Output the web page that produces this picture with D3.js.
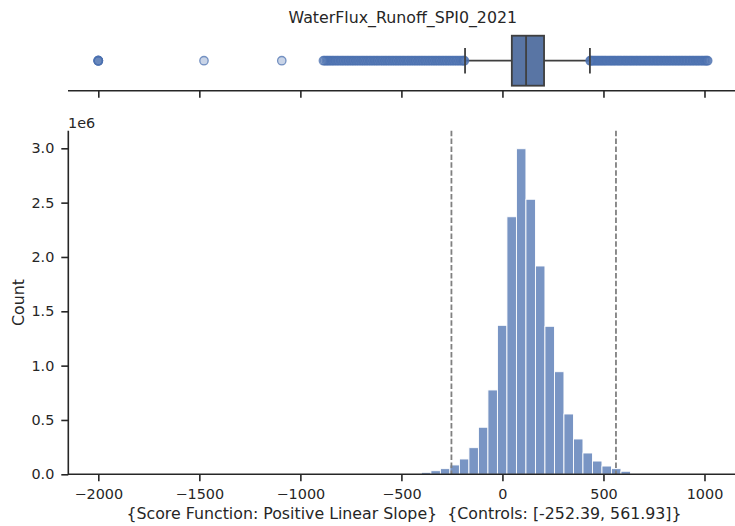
<!DOCTYPE html>
<html>
<head>
<meta charset="utf-8">
<script src="https://cdn.jsdelivr.net/npm/d3@7/dist/d3.min.js"></script>
<style>
  body { margin: 0; background: #fff; }
  svg { display: block; font-family: "DejaVu Sans", sans-serif; }
</style>
</head>
<body>
<svg id="chart" width="735" height="526"></svg>
<script>
// ---- data ----
const title = "WaterFlux_Runoff_SPI0_2021";
const xLabel = "{Score Function: Positive Linear Slope}  {Controls: [-252.39, 561.93]}";
const yLabel = "Count";
const binLefts = [-400.98, -353.95, -306.92, -259.89, -212.86, -165.83, -118.80, -71.77, -24.74, 22.29, 69.32,
                  116.35, 163.38, 210.41, 257.44, 304.47, 351.50, 398.53, 445.56, 492.59, 539.62, 586.65];
const binWidth = 47.03;
const binCounts = [18000, 33000, 52000, 86000, 141000, 245000, 433000, 776000, 1371000, 2370000, 2996000,
                   2531000, 1917000, 1362000, 944000, 555000, 325000, 196000, 122000, 76000, 52000, 28000];
const controls = [-252.39, 561.93];
const xTicks = [-2000, -1500, -1000, -500, 0, 500, 1000];
const yTicks = [0, 500000, 1000000, 1500000, 2000000, 2500000, 3000000];
const boxStats = { q1: 46.5, median: 117, q3: 206, whiskerLow: -185, whiskerHigh: 433 };
const outliersLow = [-2000, -2000, -2000, -2000, -2000, -1477, -1092,
  -886, -880, -872, -865, -858, -850, -842, -835, -826, -818, -810, -801, -793, -785, -776, -768, -760,
  -751, -743, -735, -726, -718, -709, -700, -692, -684, -675, -667, -658, -650, -641, -633, -624, -616,
  -607, -598, -590, -581, -573, -564, -556, -547, -539, -530, -522, -513, -505, -496, -488, -479, -470,
  -462, -453, -445, -436, -428, -419, -411, -402, -394, -385, -377, -368, -360, -351, -343, -334, -326,
  -317, -309, -300, -292, -283, -275, -266, -258, -249, -241, -232, -224, -215, -207, -198, -192, -188];
const outliersHigh = [434, 437, 442, 448, 455, 462, 469, 476, 483, 490, 497, 504, 511, 518, 526, 533,
  540, 547, 554, 561, 569, 576, 583, 590, 598, 605, 612, 619, 627, 634, 641, 648, 656, 663, 670, 678,
  685, 692, 700, 707, 714, 722, 729, 736, 744, 751, 759, 766, 773, 781, 788, 796, 803, 811, 818, 826,
  833, 841, 848, 856, 863, 871, 878, 886, 893, 901, 908, 916, 924, 931, 939, 946, 954, 962, 969, 977,
  985, 992, 1000, 1006, 1012, 1016];

// ---- layout ----
const svg = d3.select("#chart");
const ink = "#262626";
const x = d3.scaleLinear().domain([-2150, 1151]).range([68, 735]);
const y = d3.scaleLinear().domain([0, 3.162e6]).range([474.3, 130.7]);

// title
svg.append("text").attr("x", 402.8).attr("y", 23).attr("text-anchor", "middle")
  .attr("font-size", 15.8).attr("fill", ink).text(title);

// ---- box panel ----
const boxY = 60.7, boxH = 25, capH = 12.8;
const boxG = svg.append("g");
const xAxisTop = d3.axisBottom(x).tickValues(xTicks).tickSize(7).tickFormat("");
const gTop = boxG.append("g").attr("transform", "translate(0,90.7)").call(xAxisTop);
gTop.select(".domain").attr("stroke", ink).attr("stroke-width", 1.6)
  .attr("d", `M${x.range()[0]},0H${x.range()[1]}`);
gTop.selectAll(".tick line").attr("stroke", ink).attr("stroke-width", 1.6);

const boxStroke = "#3f3f3f";
boxG.append("line").attr("x1", x(boxStats.whiskerLow)).attr("x2", x(boxStats.q1))
  .attr("y1", boxY).attr("y2", boxY).attr("stroke", boxStroke).attr("stroke-width", 1.8);
boxG.append("line").attr("x1", x(boxStats.q3)).attr("x2", x(boxStats.whiskerHigh))
  .attr("y1", boxY).attr("y2", boxY).attr("stroke", boxStroke).attr("stroke-width", 1.8);
const fliers = outliersLow.concat(outliersHigh);
boxG.selectAll("circle.flier").data(fliers).join("circle").attr("class", "flier")
  .attr("cx", d => x(d)).attr("cy", boxY).attr("r", 4.2)
  .attr("fill", "#4c72b0").attr("fill-opacity", 0.3)
  .attr("stroke", "#4c72b0").attr("stroke-opacity", 0.75).attr("stroke-width", 1.3);
[boxStats.whiskerLow, boxStats.whiskerHigh].forEach(v => {
  boxG.append("line").attr("x1", x(v)).attr("x2", x(v))
    .attr("y1", boxY - capH).attr("y2", boxY + capH).attr("stroke", boxStroke).attr("stroke-width", 1.8);
});
boxG.append("rect").attr("x", x(boxStats.q1)).attr("y", boxY - boxH)
  .attr("width", x(boxStats.q3) - x(boxStats.q1)).attr("height", 2 * boxH)
  .attr("fill", "#5975a4").attr("stroke", boxStroke).attr("stroke-width", 1.8);
boxG.append("line").attr("x1", x(boxStats.median)).attr("x2", x(boxStats.median))
  .attr("y1", boxY - boxH).attr("y2", boxY + boxH).attr("stroke", boxStroke).attr("stroke-width", 1.8);

// ---- histogram ----
const bars = binLefts.map((l, i) => ({ x0: l, x1: l + binWidth, c: binCounts[i] }));
svg.append("g").selectAll("rect").data(bars).join("rect")
  .attr("x", d => x(d.x0)).attr("width", d => x(d.x1) - x(d.x0))
  .attr("y", d => y(d.c)).attr("height", d => y(0) - y(d.c))
  .attr("fill", "rgba(76,114,176,0.75)").attr("stroke", "#ffffff").attr("stroke-width", 0.9);

// control lines
svg.append("g").selectAll("line").data(controls).join("line")
  .attr("x1", d => x(d)).attr("x2", d => x(d))
  .attr("y1", y.range()[1]).attr("y2", y.range()[0])
  .attr("stroke", "#808080").attr("stroke-width", 1.8).attr("stroke-dasharray", "5.5,2.4");

// axes
const fmtY = d => (d / 1e6).toFixed(1);
const gx = svg.append("g").attr("transform", "translate(0,474.3)")
  .call(d3.axisBottom(x).tickValues(xTicks).tickSize(7).tickPadding(7)
    .tickFormat(d => d < 0 ? "\u2212" + Math.abs(d) : String(d)));
const gy = svg.append("g").attr("transform", "translate(68.3,0)")
  .call(d3.axisLeft(y).tickValues(yTicks).tickSize(7).tickPadding(7).tickFormat(fmtY));
[gx, gy].forEach(g => {
  g.select(".domain").attr("stroke", ink).attr("stroke-width", 1.6);
  g.selectAll(".tick line").attr("stroke", ink).attr("stroke-width", 1.6);
  g.selectAll(".tick text").attr("fill", ink).attr("font-size", 14.4)
    .attr("font-family", "DejaVu Sans, sans-serif");
});
gx.select(".domain").attr("d", `M${x.range()[0]},0H${x.range()[1]}`);
gy.select(".domain").attr("d", `M0,${y.range()[0]}V${y.range()[1]}`);

// offset text
svg.append("text").attr("x", 68).attr("y", 127.5).attr("font-size", 14.4).attr("fill", ink).text("1e6");

// axis labels
svg.append("text").attr("x", 404).attr("y", 519).attr("text-anchor", "middle")
  .attr("font-size", 15.8).attr("fill", ink).style("white-space", "pre").text(xLabel);
svg.append("text").attr("transform", "translate(23.5,302.5) rotate(-90)").attr("text-anchor", "middle")
  .attr("font-size", 15.8).attr("fill", ink).text(yLabel);
</script>
</body>
</html>
